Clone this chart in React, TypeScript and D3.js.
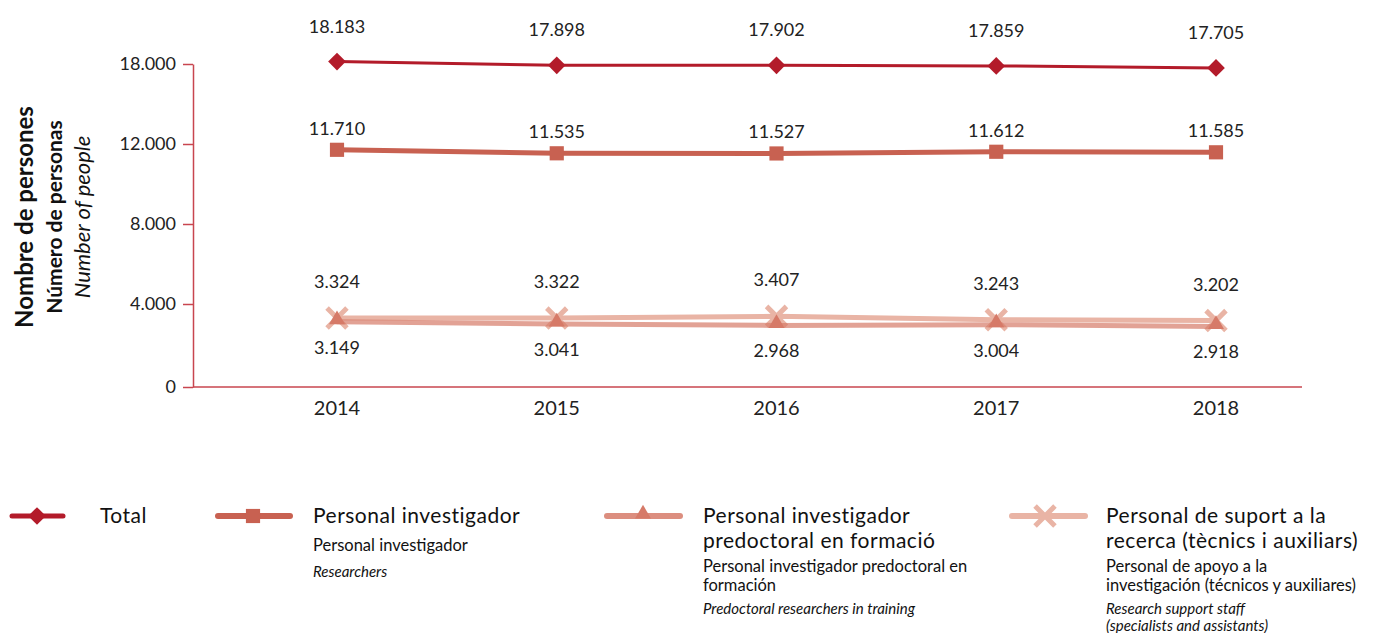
import React, { useRef, useEffect } from 'react';
import * as d3 from 'd3';

// Years on the x axis
const years = ['2014', '2015', '2016', '2017', '2018'];

// Series values (people)
const totalValues = [18183, 17898, 17902, 17859, 17705];
const researcherValues = [11710, 11535, 11527, 11612, 11585];
const predocValues = [3149, 3041, 2968, 3004, 2918];
const supportValues = [3324, 3322, 3407, 3243, 3202];

// Y ticks as printed on the axis
const yTicks = [0, 4000, 8000, 12000, 18000];

const FONT = 'Lato, "Open Sans", sans-serif';

const App = () => {
  const svgRef = useRef(null);

  useEffect(() => {
    document.body.style.margin = '0';
    const svg = d3.select(svgRef.current);
    svg.selectAll('*').remove();

    const width = 1387;
    const height = 633;
    svg.attr('width', width).attr('height', height);

    const axisLeftX = 193;
    const axisRightX = 1302;

    const x = d3.scalePoint().domain(years).range([337, 1216]);
    // axis is drawn with evenly spaced ticks, so the scale is piecewise
    const y = d3.scaleLinear().domain(yTicks).range([387, 304, 224, 144, 64]);

    const locale = d3.formatLocale({ decimal: ',', thousands: '.', grouping: [3], currency: ['', ''] });
    const fmt = locale.format(',');

    const axisColor = '#c8464f';

    // Y axis
    const yAxis = svg.append('g')
      .attr('transform', `translate(${axisLeftX},0)`)
      .call(d3.axisLeft(y).tickValues(yTicks).tickFormat(d => fmt(d)).tickSize(10).tickPadding(7).tickSizeOuter(0));
    yAxis.select('.domain').attr('stroke', axisColor).attr('stroke-width', 1.5);
    yAxis.selectAll('line').attr('stroke', axisColor).attr('stroke-width', 1.5);
    yAxis.selectAll('text')
      .style('font-family', FONT)
      .style('font-size', '18px')
      .attr('fill', '#222');

    // X axis baseline
    svg.append('line')
      .attr('x1', axisLeftX).attr('x2', axisRightX)
      .attr('y1', y(0)).attr('y2', y(0))
      .attr('stroke', axisColor).attr('stroke-width', 1.5);

    svg.append('g').selectAll('text')
      .data(years)
      .enter().append('text')
      .attr('x', d => x(d))
      .attr('y', 415)
      .attr('text-anchor', 'middle')
      .style('font-family', FONT)
      .style('font-size', '20px')
      .attr('fill', '#222')
      .text(d => d);

    // Y title, three languages
    const titles = [
      { text: 'Nombre de persones', weight: 700, style: 'normal', size: 24, x: 33 },
      { text: 'Número de personas', weight: 700, style: 'normal', size: 21, x: 62 },
      { text: 'Number of people', weight: 400, style: 'italic', size: 22, x: 90 },
    ];
    titles.forEach(t => {
      svg.append('text')
        .attr('transform', `translate(${t.x},217) rotate(-90)`)
        .attr('text-anchor', 'middle')
        .style('font-family', FONT)
        .style('font-size', `${t.size}px`)
        .style('font-weight', t.weight)
        .style('font-style', t.style)
        .attr('fill', '#111')
        .text(t.text);
    });

    const colors = {
      total: '#b31b2a',
      researchers: '#c86151',
      predoc: '#d67a68',
      support: '#e9b4a5',
    };

    const line = d3.line<number>()
      .x((d, i) => x(years[i]))
      .y(d => y(d));

    const diamond = d3.symbol().type(d3.symbolDiamond2).size(200);
    const square = d3.symbol().type(d3.symbolSquare2).size(256);
    const triangle = d3.symbol().type(d3.symbolTriangle).size(110);
    const cross = d3.symbol().type(d3.symbolX).size(260);

    const drawLabels = (values, dy) => {
      svg.append('g').selectAll('text')
        .data(values)
        .enter().append('text')
        .attr('x', (d, i) => x(years[i]))
        .attr('y', d => y(d) + dy)
        .attr('text-anchor', 'middle')
        .attr('dominant-baseline', 'central')
        .style('font-family', FONT)
        .style('font-size', '18px')
        .attr('fill', '#222')
        .text(d => fmt(d));
    };

    // Support staff (drawn first, sits under the predoc markers)
    svg.append('path')
      .datum(supportValues)
      .attr('d', line)
      .attr('fill', 'none')
      .attr('stroke', colors.support)
      .attr('stroke-width', 5)
      .attr('stroke-linecap', 'round');
    svg.append('g').selectAll('path')
      .data(supportValues)
      .enter().append('path')
      .attr('transform', (d, i) => `translate(${x(years[i])},${y(d)})`)
      .attr('d', cross)
      .attr('fill', 'none')
      .attr('stroke', colors.support)
      .attr('stroke-width', 5);

    // Predoctoral researchers
    svg.append('path')
      .datum(predocValues)
      .attr('d', line)
      .attr('fill', 'none')
      .attr('stroke', colors.predoc)
      .attr('stroke-opacity', 0.7)
      .attr('stroke-width', 5)
      .attr('stroke-linecap', 'round');
    svg.append('g').selectAll('path')
      .data(predocValues)
      .enter().append('path')
      .attr('transform', (d, i) => `translate(${x(years[i])},${y(d) - 2})`)
      .attr('d', triangle)
      .attr('fill', colors.predoc);

    // Researchers
    svg.append('path')
      .datum(researcherValues)
      .attr('d', line)
      .attr('fill', 'none')
      .attr('stroke', colors.researchers)
      .attr('stroke-width', 5)
      .attr('stroke-linecap', 'round');
    svg.append('g').selectAll('path')
      .data(researcherValues)
      .enter().append('path')
      .attr('transform', (d, i) => `translate(${x(years[i])},${y(d)})`)
      .attr('d', square)
      .attr('fill', colors.researchers);

    // Total
    svg.append('path')
      .datum(totalValues)
      .attr('d', line)
      .attr('fill', 'none')
      .attr('stroke', colors.total)
      .attr('stroke-width', 3);
    svg.append('g').selectAll('path')
      .data(totalValues)
      .enter().append('path')
      .attr('transform', (d, i) => `translate(${x(years[i])},${y(d)})`)
      .attr('d', diamond)
      .attr('fill', colors.total);

    drawLabels(totalValues, -36);
    drawLabels(researcherValues, -22);
    drawLabels(supportValues, -37);
    drawLabels(predocValues, 25);

    // Legend
    const legendY = 516;
    const legendItems = [
      {
        x0: 12, x1: 63, cx: 37, tx: 100, color: colors.total, sym: diamond, fill: true, lw: 5, op: 1,
        lines: [['Total', 21, 'normal', 523]],
      },
      {
        x0: 218, x1: 290, cx: 253, tx: 313, color: colors.researchers, sym: square, fill: true, lw: 6, op: 1,
        lines: [
          ['Personal investigador', 21, 'normal', 523],
          ['Personal investigador', 16.5, 'normal', 551],
          ['Researchers', 15, 'italic', 577],
        ],
      },
      {
        x0: 607, x1: 680, cx: 643, tx: 703, color: colors.predoc, sym: triangle, fill: true, lw: 6, op: 0.85,
        lines: [
          ['Personal investigador', 21, 'normal', 523],
          ['predoctoral en formació', 21, 'normal', 548],
          ['Personal investigador predoctoral en', 16.5, 'normal', 572],
          ['formación', 16.5, 'normal', 591],
          ['Predoctoral researchers in training', 15, 'italic', 614],
        ],
      },
      {
        x0: 1012, x1: 1085, cx: 1045, tx: 1106, color: colors.support, sym: cross, fill: false, lw: 6, op: 1,
        lines: [
          ['Personal de suport a la', 21, 'normal', 523],
          ['recerca (tècnics i auxiliars)', 21, 'normal', 548],
          ['Personal de apoyo a la', 16.5, 'normal', 572],
          ['investigación (técnicos y auxiliares)', 16.5, 'normal', 591],
          ['Research support staff', 15, 'italic', 614],
          ['(specialists and assistants)', 15, 'italic', 631],
        ],
      },
    ];

    legendItems.forEach(item => {
      const g = svg.append('g');
      g.append('line')
        .attr('x1', item.x0).attr('x2', item.x1)
        .attr('y1', legendY).attr('y2', legendY)
        .attr('stroke', item.color)
        .attr('stroke-opacity', item.op)
        .attr('stroke-width', item.lw)
        .attr('stroke-linecap', 'round');
      const m = g.append('path')
        .attr('transform', `translate(${item.cx},${legendY - (item.sym === triangle ? 2 : 0)})`)
        .attr('d', item.sym);
      if (item.fill) m.attr('fill', item.color);
      else m.attr('fill', 'none').attr('stroke', item.color).attr('stroke-width', 5);

      item.lines.forEach(([txt, size, style, by]) => {
        g.append('text')
          .attr('x', item.tx)
          .attr('y', by)
          .style('font-family', FONT)
          .style('font-size', `${size}px`)
          .style('font-style', style)
          .style('letter-spacing', size > 20 ? '0.5px' : '0px')
          .attr('fill', '#111')
          .text(txt);
      });
    });
  }, []);

  return (
    <div>
      <svg ref={svgRef} style={{ display: 'block', background: '#fff' }} />
    </div>
  );
};

export default App;
